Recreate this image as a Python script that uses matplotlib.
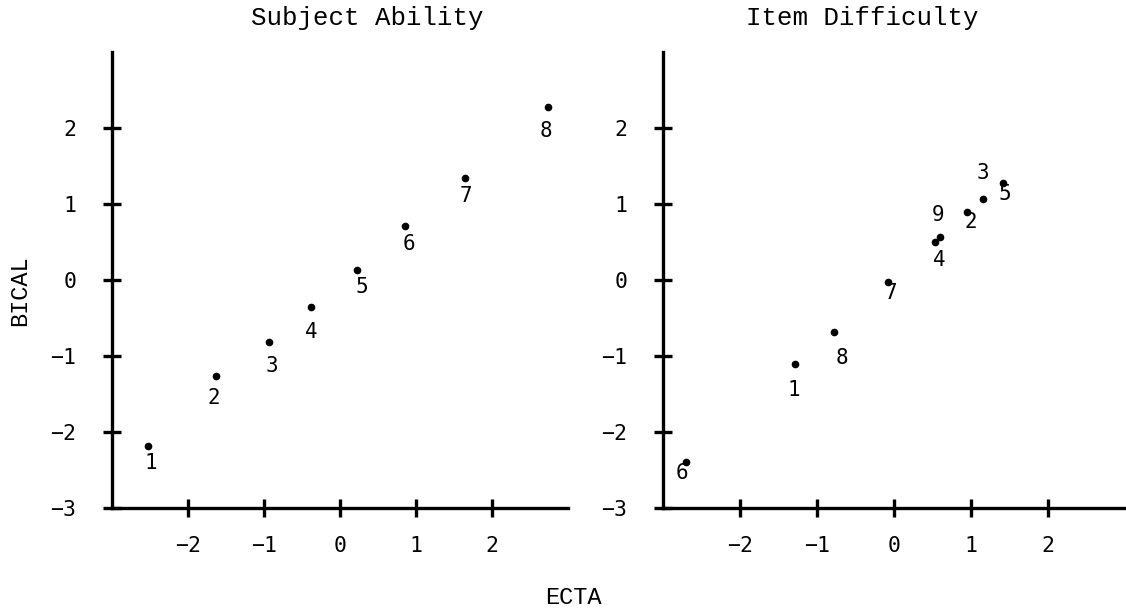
import matplotlib
matplotlib.use("Agg")
import matplotlib.pyplot as plt

# ---- data ----
subject_labels = ["1", "2", "3", "4", "5", "6", "7", "8"]
subject_ecta = [-2.53, -1.63, -0.94, -0.38, 0.23, 0.85, 1.64, 2.74]
subject_bical = [-2.18, -1.26, -0.82, -0.36, 0.13, 0.71, 1.34, 2.27]

item_labels = ["1", "2", "3", "4", "5", "6", "7", "8", "9"]
item_ecta = [-1.29, 0.95, 1.15, 0.53, 1.42, -2.70, -0.08, -0.78, 0.60]
item_bical = [-1.11, 0.90, 1.07, 0.50, 1.28, -2.40, -0.02, -0.69, 0.57]

x_ticks = [-2, -1, 0, 1, 2]
y_ticks = [-3, -2, -1, 0, 1, 2]

# label offsets (pixels, x right / y down)
subject_offsets = [(3, 17), (-2, 22), (3, 24), (0, 25), (4, 17), (4, 18), (1, 18), (-2, 24)]
item_offsets = [(-1, 26), (4, 10), (0, -26), (4, 18), (1, 11), (-4, 11), (3, 11), (8, 26), (-2, -22)]

DPI = 100
fig = plt.figure(figsize=(11.26, 6.15), dpi=DPI)

mono = "Liberation Mono"
tickfont = "DejaVu Sans Mono"

def fmt(t):
    return ("\u2212%d" % -t) if t < 0 else str(t)

def setup(ax):
    ax.set_xlim(-3, 3)
    ax.set_ylim(-3, 3)
    for s in ("top", "right"):
        ax.spines[s].set_visible(False)
    for s in ("left", "bottom"):
        ax.spines[s].set_linewidth(2.4)
        ax.spines[s].set_color("black")
    ax.set_xticks(x_ticks)
    ax.set_xticklabels([fmt(t) for t in x_ticks], fontfamily=tickfont, fontsize=15.5)
    ax.set_yticks(y_ticks)
    ax.set_yticklabels([fmt(t) for t in y_ticks], fontfamily=tickfont, fontsize=15.5)
    ax.tick_params(axis="both", direction="inout", length=13, width=2.4, color="black")
    ax.tick_params(axis="x", pad=14)
    ax.tick_params(axis="y", pad=19)

def plot_points(ax, xs, ys, labels, offsets):
    ax.plot(xs, ys, "o", color="black", markersize=4.5, linestyle="none", clip_on=False)
    for x, y, lab, (dx, dy) in zip(xs, ys, labels, offsets):
        ax.annotate(lab, (x, y), xytext=(dx, -dy), textcoords="offset pixels",
                    ha="center", va="center", fontfamily=tickfont, fontsize=15)

ax1 = fig.add_axes([112 / 1126, 1 - 508 / 615, 456 / 1126, 456 / 615])
setup(ax1)
plot_points(ax1, subject_ecta, subject_bical, subject_labels, subject_offsets)
ax1.text(0.559, 1.075, "Subject Ability", transform=ax1.transAxes,
         ha="center", va="center", fontfamily=mono, fontsize=18.5)

ax2 = fig.add_axes([663 / 1126, 1 - 508 / 615, 462 / 1126, 456 / 615])
setup(ax2)
plot_points(ax2, item_ecta, item_bical, item_labels, item_offsets)
ax2.text(0.431, 1.075, "Item Difficulty", transform=ax2.transAxes,
         ha="center", va="center", fontfamily=mono, fontsize=18.5)

fig.text(20 / 1126, 1 - 291 / 615, "BICAL", rotation=90, ha="center", va="center",
         fontfamily=mono, fontsize=17)
fig.text(573 / 1126, 1 - 597 / 615, "ECTA", ha="center", va="center",
         fontfamily=mono, fontsize=17)

fig.savefig("out.png", dpi=DPI, facecolor="white")
